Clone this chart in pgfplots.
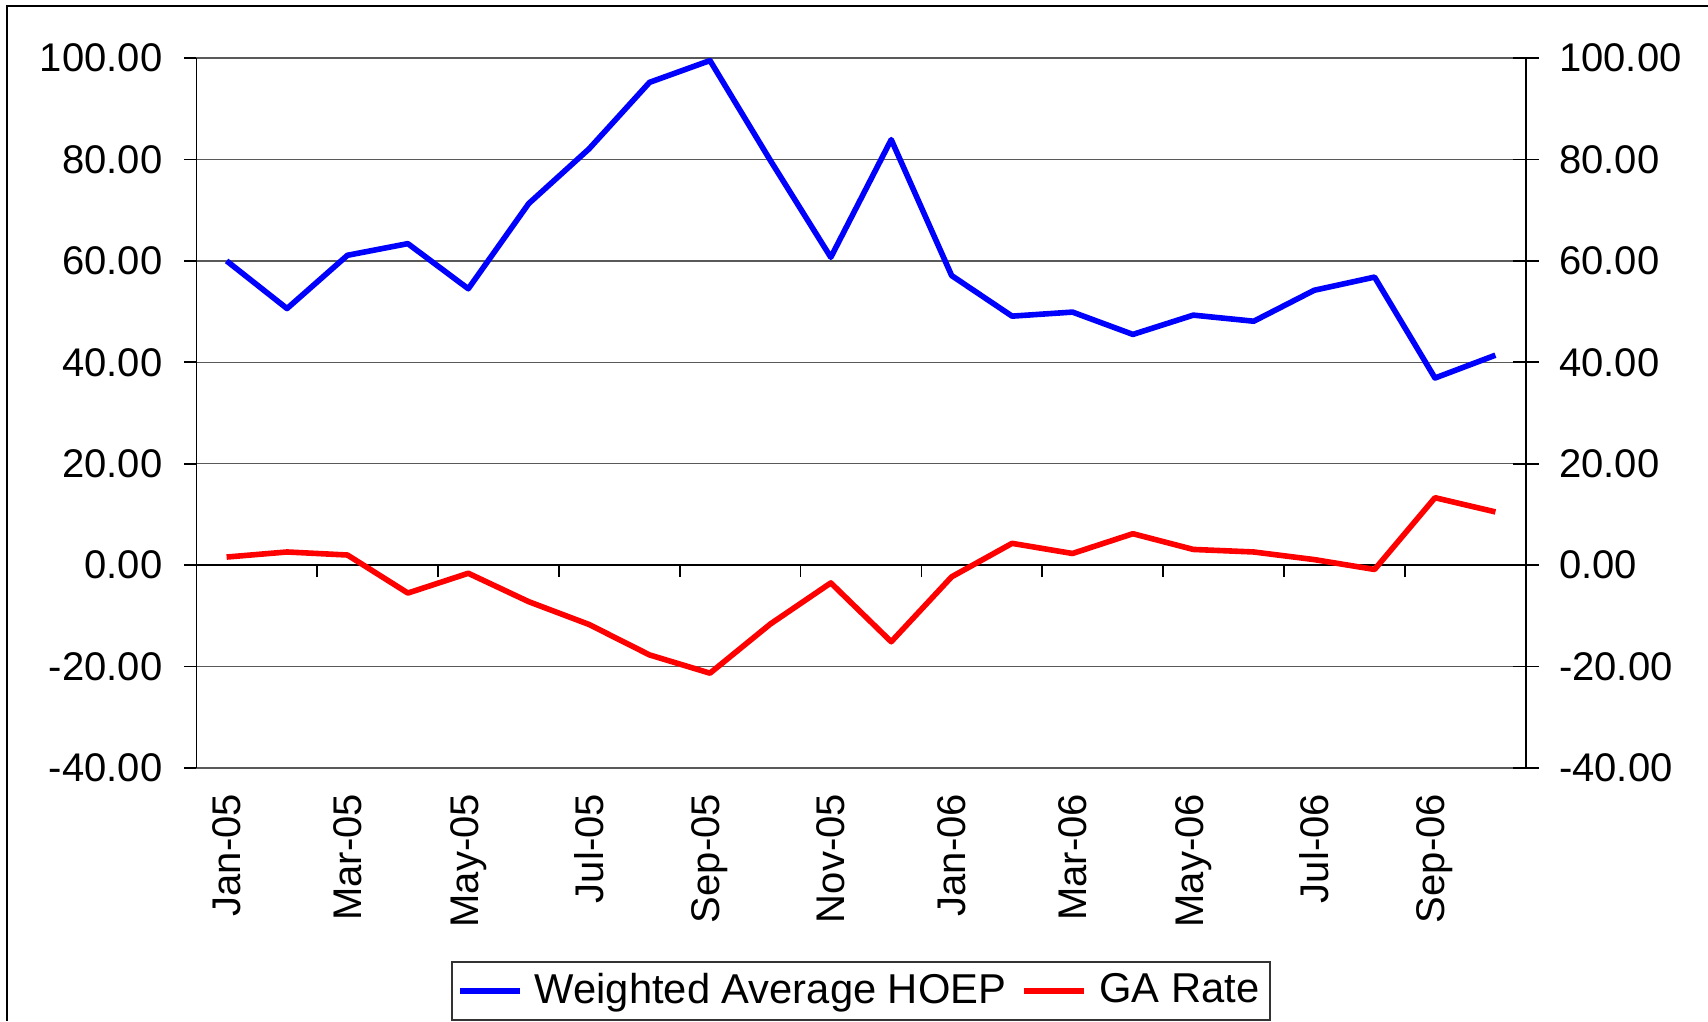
\documentclass[border=0pt]{standalone}
\usepackage{fontspec}
\setmainfont{Liberation Sans}
\usepackage{pgfplots}
\usepackage{pgfplotstable}
\pgfplotsset{compat=1.18}

\pgfplotstableread{
x hoep ga
0  60.0   1.6
1  50.6   2.6
2  61.1   2.0
3  63.4  -5.5
4  54.5  -1.6
5  71.3  -7.2
6  82.1 -11.7
7  95.2 -17.7
8  99.5 -21.3
9  79.8 -11.6
10 60.7  -3.5
11 83.9 -15.1
12 57.1  -2.3
13 49.1   4.3
14 49.9   2.3
15 45.5   6.2
16 49.3   3.1
17 48.1   2.6
18 54.2   1.1
19 56.8  -0.85
20 36.9  13.3
21 41.4  10.5
}\datatable

\pgfplotsset{
  common/.style={
    scale only axis, width=332.3pt, height=177.5pt,
    at={(49.1pt,63.25pt)}, anchor=south west,
    xmin=-0.5, xmax=21.5, ymin=-40, ymax=100,
    axis line style={-, black, line width=0.45pt},
    tick style={black, line width=0.45pt},
    ytick={-40,-20,0,20,40,60,80,100},
    yticklabels={-40.00,-20.00,0.00,20.00,40.00,60.00,80.00,100.00},
  }
}

\begin{document}
\begin{tikzpicture}[font=\fontsize{10}{12}\selectfont]
\useasboundingbox (0,0) rectangle (427pt,255.25pt);
\draw[line width=0.45pt] (1.75pt,0) -- (1.75pt,253.75pt) -- (427pt,253.75pt);

% grid, left axis, x labels
\begin{axis}[common,
  axis x line*=bottom, axis y line*=left,
  x axis line style={draw=none},
  ymajorgrids, major grid style={black!65, line width=0.35pt},
  tick align=outside, major tick length=3pt,
  xtick={0,2,...,20},
  xticklabels={Jan-05,Mar-05,May-05,Jul-05,Sep-05,Nov-05,Jan-06,Mar-06,May-06,Jul-06,Sep-06},
  xtick style={draw=none},
  xticklabel style={rotate=90, anchor=east},
  yticklabel style={xshift=-2pt},
]
\end{axis}

% zero line with category ticks
\begin{axis}[common,
  axis x line*=middle, axis y line=none,
  xtick={1.5,3.5,...,21.5}, xticklabels={},
  tick align=outside, major tick length=3pt,
]
\end{axis}

% right axis
\begin{axis}[common,
  axis y line*=right, axis x line=none,
  tick align=center, major tick length=6.5pt,
  yticklabel style={xshift=1.6pt},
]
\end{axis}

% data and legend
\begin{axis}[common, hide axis,
  legend style={at={(0.5,-0.314)}, anchor=center, legend columns=2,
    draw=black!80, line width=0.45pt, inner xsep=1.3pt, inner ysep=1.25pt,
    nodes={inner xsep=1.4pt, inner ysep=1.4pt},
    font=\fontsize{10.43}{12}\selectfont,
    /tikz/every odd column/.append style={column sep=1.6pt},
    /tikz/every even column/.append style={column sep=2.45pt}},
  legend image code/.code={\draw[#1, line width=1.4pt] (0pt,0pt) -- (15pt,0pt);},
]
\addplot[blue, line width=1.4pt, line join=round] table[x=x, y=hoep] {\datatable};
\addlegendentry{Weighted Average HOEP}
\addplot[red, line width=1.4pt, line join=round] table[x=x, y=ga] {\datatable};
\addlegendentry{GA Rate}
\end{axis}
\end{tikzpicture}
\end{document}
